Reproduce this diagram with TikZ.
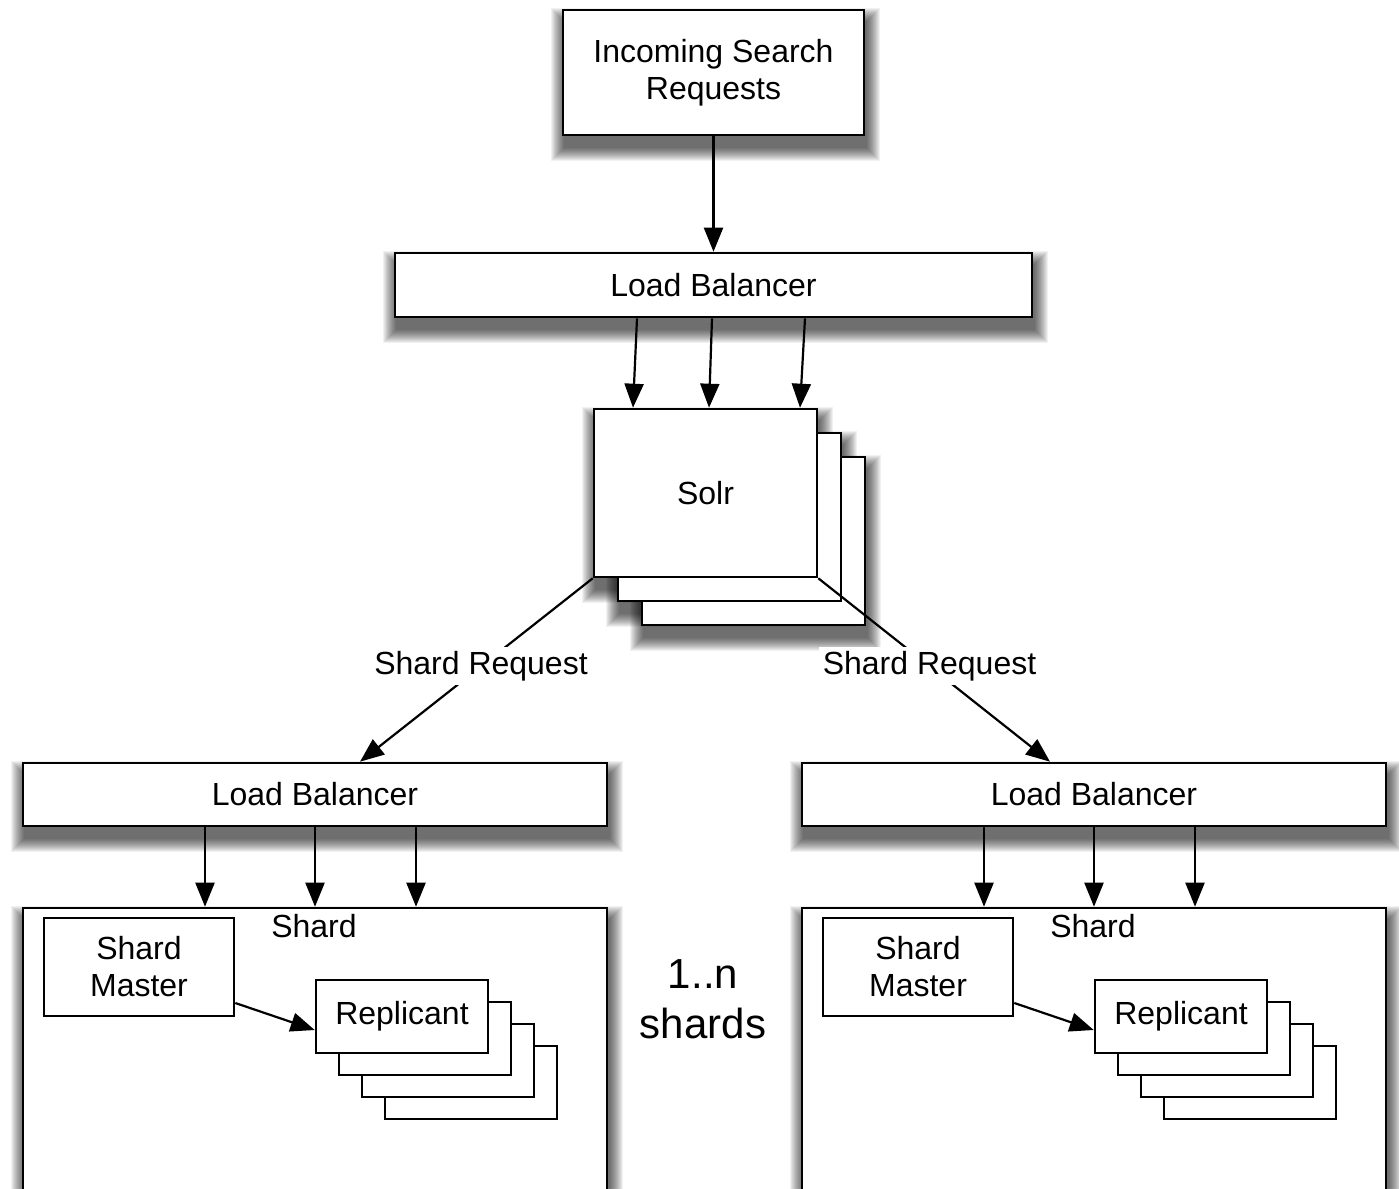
\documentclass[tikz,border=0pt]{standalone}
\usepackage{fontspec}
\setmainfont{Liberation Sans}
\usetikzlibrary{arrows.meta,backgrounds}
\tikzset{
  box/.style={draw, fill=white, line width=2.6pt, inner sep=0pt, align=center,
    font=\fontsize{32}{37}\selectfont},
  arr/.style={line width=2.2pt, -{Triangle[length=24pt,width=19pt,fill=black]}},
  lbl/.style={fill=white, inner sep=4pt, font=\fontsize{32}{37}\selectfont},
  plain/.style={inner sep=0pt, align=center, font=\fontsize{32}{37}\selectfont},
  shadlayer/.style={fill=black, opacity=0.055}
}
% soft drop shadow behind a named node (drawn on the background layer)
\newcommand\softshadow[1]{%
  \foreach \k in {0,...,13}{%
    \fill[shadlayer] ([shift={(2-13+\k,12-13+\k)}]#1.north west)
      rectangle ([shift={(2+13-\k,12+13-\k)}]#1.south east);
  }%
}
\begin{document}
\begin{tikzpicture}[x=1pt,y=-1pt]
\useasboundingbox (0,0) rectangle (1399,1188);
\clip (0,0) rectangle (1399,1188);

% top box and load balancer
\node[box, minimum width=301pt, minimum height=125pt] (inc) at (713.5,72.5) {Incoming Search\\Requests};
\node[box, minimum width=637pt, minimum height=64pt] (lb1) at (713.5,285) {Load Balancer};

% Solr stack, back to front
\node[box, minimum width=223pt, minimum height=168pt] (solr2) at (753.5,541) {};
\node[box, minimum width=223pt, minimum height=168pt] (solr1) at (729.5,517) {};
\node[box, minimum width=223pt, minimum height=168pt] (solr0) at (705.5,493) {Solr};

% lower load balancers
\node[box, minimum width=584pt, minimum height=63pt] (lbL) at (315,794.5) {Load Balancer};
\node[box, minimum width=584pt, minimum height=63pt] (lbR) at (1094,794.5) {Load Balancer};

% shards
\node[box, minimum width=584pt, minimum height=302pt] (shardL) at (315,1059) {};
\node[box, minimum width=584pt, minimum height=302pt] (shardR) at (1094,1059) {};
\node[plain] (shardLt) at (314,926) {Shard};
\node[plain] (shardRt) at (1093,926) {Shard};

\node[box, minimum width=190pt, minimum height=98pt] (mastL) at (139,967) {Shard\\Master};
\node[box, minimum width=190pt, minimum height=98pt] (mastR) at (918,967) {Shard\\Master};

\foreach \i in {3,2,1}{
  \node[box, minimum width=172pt, minimum height=73pt] (repL\i) at (402+23*\i,1016.5+22*\i) {};
  \node[box, minimum width=172pt, minimum height=73pt] (repR\i) at (1181+23*\i,1016.5+22*\i) {};
}
\node[box, minimum width=172pt, minimum height=73pt] (repL0) at (402,1016.5) {Replicant};
\node[box, minimum width=172pt, minimum height=73pt] (repR0) at (1181,1016.5) {Replicant};

\node[inner sep=0pt, align=center, font=\fontsize{42}{50}\selectfont] (nshards) at (703,999) {1..n\\shards};

% connectors
\draw[arr] (inc) -- (lb1);
\draw[arr] ([xshift=-76.5pt]lb1.south) -- ([xshift=-72.5pt]solr0.north);
\draw[arr] ([xshift=-1.5pt]lb1.south) -- ([xshift=3.5pt]solr0.north);
\draw[arr] ([xshift=91.5pt]lb1.south) -- ([xshift=94.5pt]solr0.north);

\draw[arr] (solr0.south west) -- node[lbl, pos=0.48] (reqL) {Shard Request} ([xshift=45pt]lbL.north);
\draw[arr] (solr0.south east) -- node[lbl, pos=0.48] (reqR) {Shard Request} ([xshift=-44pt]lbR.north);

\foreach \d in {-110,0,101}{
  \draw[arr] ([xshift=\d pt]lbL.south) -- ([xshift=\d pt]shardL.north);
  \draw[arr] ([xshift=\d pt]lbR.south) -- ([xshift=\d pt]shardR.north);
}

\draw[arr] ([yshift=-36pt]mastL.east) -- ([yshift=-13.5pt]repL0.west);
\draw[arr] ([yshift=-36pt]mastR.east) -- ([yshift=-13.5pt]repR0.west);

% shadows
\begin{pgfonlayer}{background}
  \fill[white] (0,0) rectangle (1399,1188);
  \softshadow{inc}
  \softshadow{lb1}
  \softshadow{solr0}
  \softshadow{solr1}
  \softshadow{solr2}
  \softshadow{lbL}
  \softshadow{lbR}
  \softshadow{shardL}
  \softshadow{shardR}
\end{pgfonlayer}
\end{tikzpicture}
\end{document}
